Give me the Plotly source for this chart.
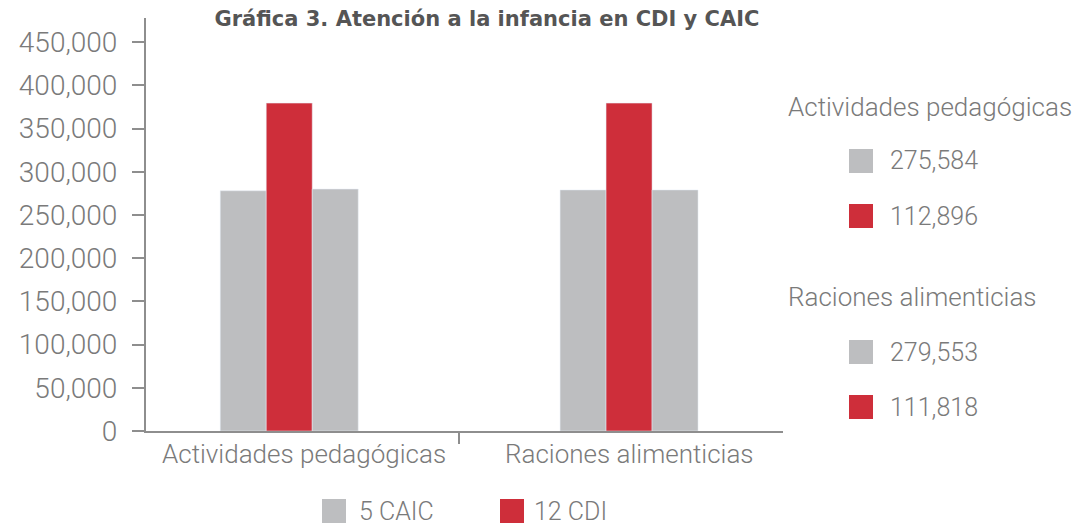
import plotly.graph_objects as go

categories = ["Actividades pedagógicas", "Raciones alimenticias"]
caic_left = [278000, 279000]
cdi = [379500, 379500]
caic_right = [280000, 279000]

y_ticks = [0, 50000, 100000, 150000, 200000, 250000, 300000, 350000, 400000, 450000]

side_groups = ["Actividades pedagógicas", "Raciones alimenticias"]
side_caic = ["275,584", "279,553"]
side_cdi = ["112,896", "111,818"]

legend_names = ["5 CAIC", "12 CDI"]

GRAY = "#bdbec0"
RED = "#ce2e3a"
TXT = "#7a7a7a"
AX = "#8e8e8e"
FONT = "Roboto"

# page offset compensation (body margin)
O = 8
W, H = 1086 - O, 525 - O
PL, PT, PW, PH = 146, 18, 637, 413  # plot area in target pixel coords

fig = go.Figure()
fig.add_trace(go.Bar(x=categories, y=caic_left, marker_color=GRAY, name=legend_names[0], showlegend=False))
fig.add_trace(go.Bar(x=categories, y=cdi, marker_color=RED, name=legend_names[1], showlegend=False))
fig.add_trace(go.Bar(x=categories, y=caic_right, marker_color=GRAY, name=legend_names[0] + " ", showlegend=False))

fig.update_layout(
    width=W, height=H,
    margin=dict(l=PL - O, r=W - (PL - O) - PW, t=PT - O, b=H - (PT - O) - PH, pad=0),
    paper_bgcolor="white", plot_bgcolor="white",
    barmode="group", bargap=0.594, bargroupgap=0,
    font=dict(family=FONT, color=TXT),
    title=dict(text="<b>Gráfica 3. Atención a la infancia en CDI y CAIC</b>",
               x=(487 - O) / W, xanchor="center", y=1 - (19 - O) / H, yanchor="middle",
               font=dict(family="DejaVu Sans", size=21, color="#555555")),
    xaxis=dict(range=[-0.4215, 1.453], showline=True, linewidth=2, linecolor=AX,
               ticks="outside", tickson="boundaries", ticklen=11, tickwidth=2, tickcolor=AX,
               showticklabels=False,
               showgrid=False, zeroline=False),
    yaxis=dict(range=[0, 478000], showline=True, linewidth=2, linecolor=AX,
               tickvals=y_ticks, tickformat=",d", ticks="outside", ticklen=12, tickwidth=2, tickcolor=AX,
               tickfont=dict(family=FONT, size=28, color=TXT, weight=300),
               ticklabelstandoff=9,
               showgrid=False, zeroline=False),
)

def px_x(x):
    return (x - PL) / PW

def px_y(y):
    return (PT + PH - y) / PH

def sq(x0, yc, color):
    fig.add_shape(type="rect", xref="paper", yref="paper",
                  x0=px_x(x0), x1=px_x(x0 + 24),
                  y0=px_y(yc + 12), y1=px_y(yc - 12),
                  fillcolor=color, line_width=0, layer="above")

def txt(x, yc, s, size=24):
    fig.add_annotation(xref="paper", yref="paper", x=px_x(x), y=px_y(yc),
                       text=s, showarrow=False, xanchor="left", yanchor="middle",
                       font=dict(family=FONT, size=size, color=TXT, weight=300))

# category labels under the axis
for cat, shift in zip(categories, [15, 0]):
    fig.add_annotation(xref="x", yref="paper", x=cat, y=px_y(454), xshift=shift,
                       text=cat, showarrow=False, xanchor="center", yanchor="middle",
                       font=dict(family=FONT, size=26, color=TXT, weight=300))

# right-side summary
rows = [(107, 161, 216), (297, 352, 407)]
for i, (yh, yg, yr) in enumerate(rows):
    txt(786, yh, side_groups[i], size=26)
    sq(849, yg, GRAY)
    txt(888, yg, side_caic[i], size=25)
    sq(849, yr, RED)
    txt(888, yr, side_cdi[i], size=25)

# bottom legend
sq(322, 511, GRAY)
txt(357, 511, legend_names[0], size=25)
sq(500, 511, RED)
txt(532, 511, legend_names[1], size=25)

fig.write_html("out.html")
